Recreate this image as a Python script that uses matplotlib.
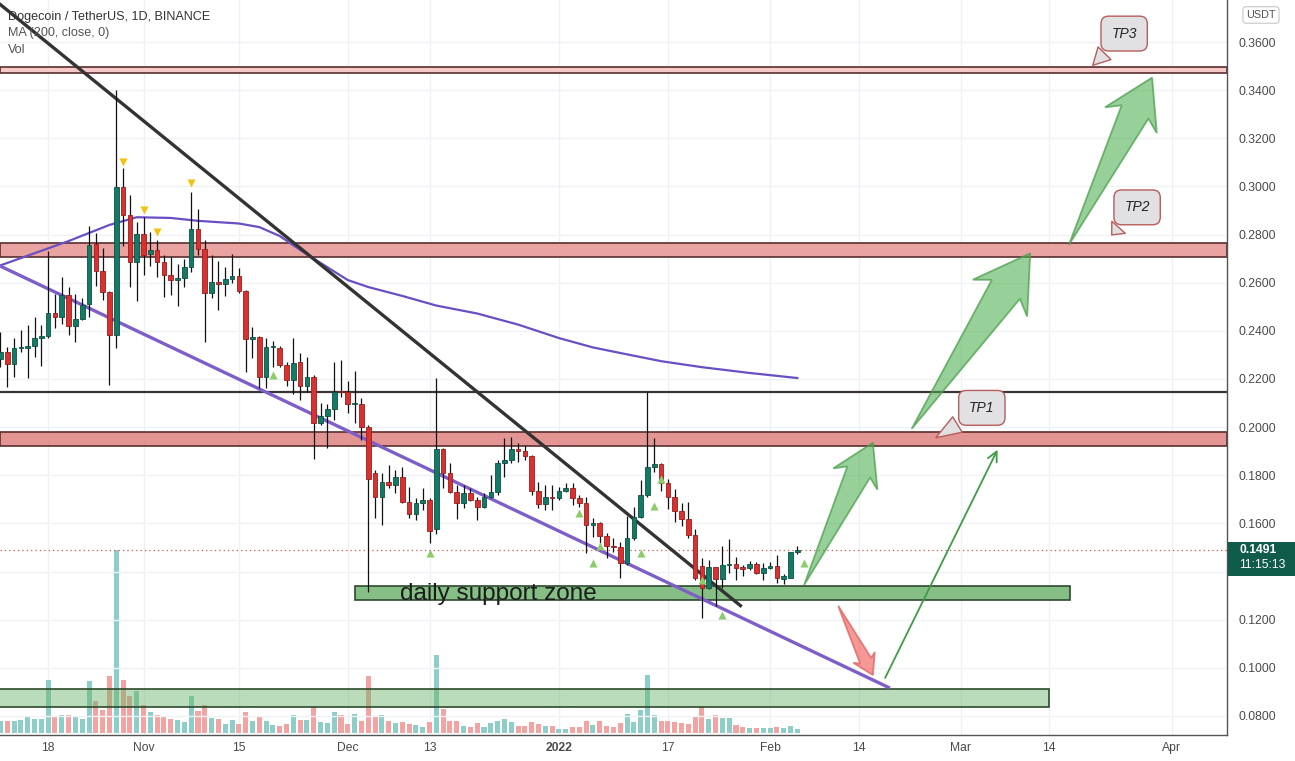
import numpy as np
import pandas as pd
import matplotlib
matplotlib.use("Agg")
import matplotlib.pyplot as plt
from matplotlib.patches import Rectangle, Polygon, FancyArrowPatch
from matplotlib.transforms import blended_transform_factory

# ---------------------------------------------------------------- data
start_date = "2021-10-11"

opens = [0.2283, 0.2311, 0.2261, 0.2327, 0.2327, 0.2338, 0.2372, 0.2379, 0.2473, 0.2456,
         0.2547, 0.2421, 0.2449, 0.2510, 0.2760, 0.2649, 0.2560, 0.2383, 0.2999, 0.2881,
         0.2687, 0.2801, 0.2718, 0.2735, 0.2687, 0.2632, 0.2611, 0.2621, 0.2664, 0.2822,
         0.2738, 0.2556, 0.2604, 0.2595, 0.2614, 0.2629, 0.2565, 0.2365, 0.2373, 0.2207,
         0.2332, 0.2330, 0.2258, 0.2196, 0.2269, 0.2171, 0.2209, 0.2016, 0.2046, 0.2074,
         0.2147, 0.2145, 0.2095, 0.2097, 0.2002, 0.1810, 0.1711, 0.1773, 0.1760, 0.1791,
         0.1690, 0.1639, 0.1686, 0.1697, 0.1575, 0.1909, 0.1808, 0.1732, 0.1683, 0.1725,
         0.1697, 0.1669, 0.1711, 0.1732, 0.1850, 0.1863, 0.1908, 0.1901, 0.1880, 0.1736,
         0.1680, 0.1711, 0.1704, 0.1736, 0.1746, 0.1704, 0.1683, 0.1593, 0.1600, 0.1549,
         0.1506, 0.1500, 0.1434, 0.1538, 0.1628, 0.1718, 0.1833, 0.1845, 0.1767, 0.1708,
         0.1651, 0.1617, 0.1552, 0.1423, 0.1330, 0.1417, 0.1369, 0.1427, 0.1431, 0.1414,
         0.1413, 0.1431, 0.1393, 0.1413, 0.1423, 0.1368, 0.1375, 0.1480]
highs = [0.2394, 0.2334, 0.2369, 0.2403, 0.2424, 0.2459, 0.2424, 0.2732, 0.2552, 0.2622,
         0.2583, 0.2552, 0.2535, 0.2837, 0.2808, 0.2743, 0.2565, 0.3401, 0.3075, 0.2964,
         0.2853, 0.2875, 0.2812, 0.2777, 0.2715, 0.2708, 0.2678, 0.2697, 0.2978, 0.2905,
         0.2777, 0.2715, 0.2690, 0.2664, 0.2718, 0.2660, 0.2570, 0.2415, 0.2380, 0.2369,
         0.2359, 0.2337, 0.2272, 0.2369, 0.2309, 0.2290, 0.2217, 0.2099, 0.2096, 0.2272,
         0.2279, 0.2193, 0.2233, 0.2122, 0.2010, 0.1822, 0.1808, 0.1843, 0.1822, 0.1836,
         0.1753, 0.1704, 0.1746, 0.1704, 0.2203, 0.1915, 0.1850, 0.1760, 0.1760, 0.1746,
         0.1711, 0.1725, 0.1801, 0.1862, 0.1953, 0.1960, 0.1933, 0.1926, 0.1885, 0.1773,
         0.1760, 0.1760, 0.1753, 0.1767, 0.1767, 0.1718, 0.1708, 0.1621, 0.1607, 0.1559,
         0.1538, 0.1524, 0.1631, 0.1669, 0.1780, 0.2147, 0.1953, 0.1850, 0.1783, 0.1742,
         0.1683, 0.1690, 0.1575, 0.1455, 0.1448, 0.1420, 0.1507, 0.1534, 0.1459, 0.1427,
         0.1444, 0.1441, 0.1437, 0.1441, 0.1469, 0.1389, 0.1482, 0.1507]
lows = [0.2251, 0.2165, 0.2209, 0.2313, 0.2205, 0.2293, 0.2255, 0.2369, 0.2410, 0.2428,
        0.2383, 0.2355, 0.2445, 0.2459, 0.2588, 0.2528, 0.2175, 0.2327, 0.2754, 0.2583,
        0.2525, 0.2632, 0.2670, 0.2625, 0.2542, 0.2549, 0.2504, 0.2583, 0.2646, 0.2715,
        0.2355, 0.2535, 0.2487, 0.2546, 0.2597, 0.2556, 0.2230, 0.2286, 0.2161, 0.2161,
        0.2251, 0.2251, 0.2171, 0.2138, 0.2111, 0.2147, 0.1866, 0.2010, 0.1912, 0.2030,
        0.2127, 0.2060, 0.2016, 0.1946, 0.1316, 0.1621, 0.1593, 0.1746, 0.1726, 0.1683,
        0.1621, 0.1614, 0.1656, 0.1517, 0.1555, 0.1746, 0.1726, 0.1617, 0.1663, 0.1694,
        0.1614, 0.1663, 0.1704, 0.1720, 0.1794, 0.1850, 0.1856, 0.1863, 0.1718, 0.1663,
        0.1656, 0.1656, 0.1697, 0.1732, 0.1676, 0.1669, 0.1476, 0.1545, 0.1489, 0.1455,
        0.1483, 0.1372, 0.1427, 0.1531, 0.1621, 0.1711, 0.1815, 0.1736, 0.1658, 0.1607,
        0.1589, 0.1541, 0.1365, 0.1206, 0.1326, 0.1257, 0.1330, 0.1393, 0.1365, 0.1381,
        0.1406, 0.1389, 0.1365, 0.1409, 0.1354, 0.1348, 0.1372, 0.1473]
closes = [0.2311, 0.2261, 0.2327, 0.2330, 0.2338, 0.2372, 0.2379, 0.2473, 0.2456, 0.2547,
          0.2421, 0.2449, 0.2507, 0.2757, 0.2649, 0.2560, 0.2383, 0.2999, 0.2881, 0.2687,
          0.2801, 0.2715, 0.2735, 0.2687, 0.2632, 0.2611, 0.2621, 0.2667, 0.2822, 0.2738,
          0.2556, 0.2604, 0.2595, 0.2614, 0.2629, 0.2565, 0.2365, 0.2373, 0.2207, 0.2332,
          0.2334, 0.2258, 0.2196, 0.2265, 0.2171, 0.2209, 0.2016, 0.2046, 0.2074, 0.2147,
          0.2145, 0.2095, 0.2097, 0.2002, 0.1783, 0.1711, 0.1773, 0.1760, 0.1791, 0.1690,
          0.1639, 0.1686, 0.1697, 0.1568, 0.1909, 0.1808, 0.1732, 0.1683, 0.1725, 0.1697,
          0.1669, 0.1711, 0.1732, 0.1850, 0.1863, 0.1908, 0.1901, 0.1880, 0.1736, 0.1680,
          0.1711, 0.1704, 0.1736, 0.1746, 0.1704, 0.1683, 0.1593, 0.1600, 0.1549, 0.1506,
          0.1500, 0.1434, 0.1538, 0.1628, 0.1718, 0.1833, 0.1845, 0.1767, 0.1708, 0.1651,
          0.1617, 0.1552, 0.1372, 0.1330, 0.1417, 0.1369, 0.1427, 0.1431, 0.1413, 0.1412,
          0.1431, 0.1393, 0.1413, 0.1423, 0.1372, 0.1381, 0.1480, 0.1491]
# relative volume (no scale shown on the chart)
volumes = [12.3, 12.3, 12.3, 13.3, 16.7, 14.3, 14.3, 53.3, 16.0, 18.3,
           18.3, 17.3, 14.3, 52.3, 32.3, 23.3, 56.7, 183.3, 53.3, 37.3,
           42.3, 27.7, 21.0, 18.3, 16.7, 14.3, 13.3, 11.0, 37.3, 21.7,
           28.3, 15.0, 14.3, 9.3, 13.3, 9.3, 21.0, 12.3, 16.7, 12.3,
           8.3, 7.3, 9.3, 18.3, 13.3, 13.3, 26.0, 11.0, 10.0, 21.0,
           18.3, 9.3, 19.3, 12.3, 57.3, 16.0, 18.3, 12.3, 10.0, 11.0,
           9.3, 8.3, 6.0, 11.0, 78.3, 24.3, 12.3, 12.3, 7.3, 6.0,
           10.0, 6.0, 10.0, 12.3, 14.0, 10.7, 7.3, 7.3, 11.0, 9.3,
           7.3, 7.3, 4.3, 4.3, 6.0, 6.0, 12.3, 8.3, 12.3, 7.3,
           5.7, 10.0, 19.3, 11.0, 23.3, 58.3, 18.3, 12.3, 12.3, 11.0,
           10.0, 9.3, 17.3, 25.7, 14.3, 18.3, 15.0, 15.0, 8.3, 6.0,
           5.0, 5.0, 5.0, 5.0, 6.0, 5.0, 7.3, 4.3]

# MA(200, close) as drawn
ma_dates = ["2021-10-11", "2021-10-21", "2021-10-27", "2021-10-31", "2021-11-05", "2021-11-09",
            "2021-11-15", "2021-11-18", "2021-11-21", "2021-11-24", "2021-11-27", "2021-12-01",
            "2021-12-04", "2021-12-09", "2021-12-14", "2021-12-20", "2021-12-26", "2022-01-01",
            "2022-01-06", "2022-01-10", "2022-01-16", "2022-01-22", "2022-01-29", "2022-02-05"]
ma_values = [0.2672, 0.2773, 0.2840, 0.2872, 0.2869, 0.2857, 0.2846, 0.2831, 0.2794, 0.2736,
             0.2682, 0.2611, 0.2582, 0.2545, 0.2505, 0.2472, 0.2426, 0.2370, 0.2331, 0.2308,
             0.2274, 0.2249, 0.2225, 0.2204]

# signal markers
sell_dates = ["2021-10-29", "2021-11-01", "2021-11-03", "2021-11-08"]
sell_levels = [0.3103, 0.2902, 0.2812, 0.3013]
buy_dates = ["2021-11-20", "2021-12-13", "2022-01-04", "2022-01-06", "2022-01-07", "2022-01-13",
             "2022-01-15", "2022-01-16", "2022-01-22", "2022-01-25", "2022-02-06"]
buy_levels = [0.2217, 0.1478, 0.1642, 0.1437, 0.1506, 0.1476, 0.1672, 0.1783, 0.1365, 0.1219, 0.1435]

# horizontal zones / levels
tp_zones = [(0.3471, 0.3497), (0.2708, 0.2764), (0.1922, 0.1981)]
resistance_level = 0.2146
last_price = 0.1491
last_time = "11:15:13"

tick_dates = ["2021-10-18", "2021-11-01", "2021-11-15", "2021-12-01", "2021-12-13", "2022-01-01",
              "2022-01-17", "2022-02-01", "2022-02-14", "2022-03-01", "2022-03-14", "2022-04-01"]
tick_labels = ["18", "Nov", "15", "Dec", "13", "2022", "17", "Feb", "14", "Mar", "14", "Apr"]
price_ticks = [0.08, 0.10, 0.12, 0.14, 0.16, 0.18, 0.20, 0.22, 0.24, 0.26, 0.28, 0.30, 0.32, 0.34, 0.36]

# ---------------------------------------------------------------- helpers
t0 = pd.Timestamp(start_date)


def day(s):
    return (pd.Timestamp(s) - t0).days


o = np.array(opens); h = np.array(highs); l = np.array(lows); c = np.array(closes)
dates = pd.date_range(start_date, periods=len(o), freq="D")
x = np.array((dates - t0).days, dtype=float)
up = c >= o

UP = "#137a66"
UP_E = "#0b5244"
DN = "#d8312f"
DN_E = "#9a1d1d"
VOL_UP = "#8dcfc8"
VOL_DN = "#f4a3a3"

W, H = 1295, 761
fig = plt.figure(figsize=(W / 100, H / 100), dpi=100, facecolor="white")
rect = [0, 1 - 735 / H, 1227 / W, 735 / H]
axv = fig.add_axes(rect)
ax = fig.add_axes(rect)
ax.patch.set_alpha(0)

XMIN, XMAX = -0.073, 180.1
YMIN, YMAX = 0.07209, 0.37745
for a in (axv, ax):
    a.set_xlim(XMIN, XMAX)
ax.set_ylim(YMIN, YMAX)
axv.set_ylim(-2, 733)

# grid (behind everything)
tick_x = [day(s) for s in tick_dates]
for tx in tick_x:
    axv.axvline(tx, color="#eff1f5", lw=1, zorder=0)
for py in price_ticks:
    ax.axhline(py, color="#eff1f5", lw=1, zorder=0)

axv.set_xticks([]); axv.set_yticks([])
for s in axv.spines.values():
    s.set_visible(False)

# volume
axv.bar(x, volumes, width=0.74, color=np.where(up, VOL_UP, VOL_DN), zorder=2, linewidth=0)

# zones
for (lo, hi), fc in zip(tp_zones, ["#f6c9c8", "#e9a3a1", "#e29592"]):
    ax.axhspan(lo, hi, facecolor=fc, edgecolor="#5a2e2e", lw=1.2, zorder=1)
ax.axhline(resistance_level, color="#3a3434", lw=1.6, zorder=2)
ax.axhline(last_price, color="#d9534f", lw=0.9, ls=(0, (1, 2.5)), zorder=2)

# green zones
ax.add_patch(Rectangle((day("2021-12-02"), 0.1281), day("2022-03-17") - day("2021-12-02"), 0.0060,
                       facecolor="#86bf86", edgecolor="#2c4a2c", lw=1.2, zorder=2))
ax.add_patch(Rectangle((-1, 0.0837), day("2022-03-14") + 1, 0.0075,
                       facecolor=(0.40, 0.70, 0.40, 0.45), edgecolor="#2c4a2c", lw=1.2, zorder=4))
ax.text(day("2021-12-09") - 0.3, 0.1306, "daily support zone", fontsize=17.5, family="Liberation Sans",
        color="#1b1b1b", va="center", ha="left", zorder=6)

# MA
ax.plot([day(s) for s in ma_dates], ma_values, color="#6a4fc4", lw=1.6, zorder=3)

# trend lines
ax.plot([-1, 108.84], [0.3778, 0.1254], color="#333333", lw=2.4, zorder=5, solid_capstyle="butt")
ax.plot([-1, 130.6], [0.2682, 0.0916], color="#7e5ec7", lw=2.4, zorder=5, solid_capstyle="butt")

# candles
ax.vlines(x, l, h, color="#111111", lw=0.9, zorder=6)
body_lo = np.minimum(o, c)
body_h = np.maximum(np.abs(c - o), 0.0005)
ax.bar(x, body_h, bottom=body_lo, width=0.68, color=np.where(up, UP, DN),
       edgecolor=np.where(up, UP_E, DN_E), linewidth=0.6, zorder=7)

# markers
ax.scatter([day(s) for s in sell_dates], sell_levels, marker="v", s=34, color="#f2c311",
           linewidths=0, zorder=8)
ax.scatter([day(s) for s in buy_dates], buy_levels, marker="^", s=34, color="#8ccc6a",
           linewidths=0, zorder=8)


# fat tapered arrows (drawn in display space from data anchors)
def fat_arrow(tail, tip, fc, ec):
    T = ax.transData
    p0 = np.array(T.transform(tail)); p1 = np.array(T.transform(tip))
    v = p1 - p0
    L = np.hypot(*v)
    u = v / L
    n = np.array([-u[1], u[0]])
    pts = [p1,
           p1 - 0.255 * L * u + 0.155 * L * n,
           p1 - 0.205 * L * u + 0.080 * L * n,
           p0,
           p1 - 0.205 * L * u - 0.080 * L * n,
           p1 - 0.255 * L * u - 0.155 * L * n]
    pts = T.inverted().transform(np.array(pts))
    ax.add_patch(Polygon(pts, closed=True, facecolor=fc, edgecolor=ec, lw=1.3, zorder=9))


GREEN_F = (0.30, 0.69, 0.31, 0.58)
GREEN_E = (0.30, 0.62, 0.30, 0.75)
fat_arrow((118.0, 0.1344), (128.1, 0.1935), GREEN_F, GREEN_E)
fat_arrow((133.8, 0.1993), (151.2, 0.2722), GREEN_F, GREEN_E)
fat_arrow((156.9, 0.2758), (169.1, 0.3452), GREEN_F, GREEN_E)
fat_arrow((123.0, 0.1258), (128.1, 0.0970), (0.94, 0.33, 0.31, 0.6), (0.88, 0.40, 0.40, 0.8))

ax.add_patch(FancyArrowPatch((129.9, 0.0958), (146.4, 0.1906), arrowstyle="->,head_length=7,head_width=3.5",
                             color="#3f9b45", lw=1.3, shrinkA=0, shrinkB=0, zorder=9))


# callouts
def callout(text, tip, box):
    ax.annotate(text, xy=tip, xytext=box, textcoords="data", ha="center", va="center",
                fontsize=10, fontstyle="italic", color="#222222", family="Liberation Sans", zorder=10,
                bbox=dict(boxstyle="round,pad=0.75,rounding_size=0.55", fc="#e1e1e3", ec="#b85c5c", lw=1),
                arrowprops=dict(arrowstyle="wedge,tail_width=1.3,shrink_factor=0.5", fc="#e1e1e3",
                                ec="#b85c5c", lw=1, relpos=(0.3, 0.15)))


callout("TP3", (160.1, 0.3495), (165.0, 0.3635))
callout("TP2", (162.9, 0.2790), (166.9, 0.2913))
callout("TP1", (137.0, 0.1950), (144.1, 0.2080))

# axes styling
for side in ("top", "left"):
    ax.spines[side].set_visible(False)
for side in ("right", "bottom"):
    ax.spines[side].set_color("#555555")
    ax.spines[side].set_linewidth(1)
ax.yaxis.tick_right()
ax.set_yticks(price_ticks)
# the 0.1400 label sits under the last-price tag in the reference
ax.set_yticklabels(["" if abs(p - 0.14) < 1e-9 else f"{p:.4f}" for p in price_ticks])
ax.tick_params(axis="y", length=0, pad=8, labelsize=8.7, labelcolor="#4a4a4a")
ax.set_xticks(tick_x)
ax.set_xticklabels(tick_labels)
ax.tick_params(axis="x", length=0, pad=5, labelsize=8.7, labelcolor="#4a4a4a")
for lab in ax.get_yticklabels() + ax.get_xticklabels():
    lab.set_family("Liberation Sans")
ax.get_xticklabels()[tick_labels.index("2022")].set_fontweight("bold")

# last price tag on the axis
bt = blended_transform_factory(ax.transAxes, ax.transData)
ax.add_patch(Rectangle((1.0008, last_price - 26 / 2407), 0.06, 34 / 2407, transform=bt,
                       facecolor="#105c4b", edgecolor="none", clip_on=False, zorder=11))
ax.text(1.010, last_price - 0.0002, f"{last_price:.4f}", transform=bt, color="white", fontsize=8.7,
        fontweight="bold", family="Liberation Sans", va="center", ha="left", clip_on=False, zorder=12)
ax.text(1.010, last_price - 0.0065, last_time, transform=bt, color="white", fontsize=8.7,
        family="Liberation Sans", va="center", ha="left", clip_on=False, zorder=12)

# header
fig.text(8 / W, 1 - 17 / H, "Dogecoin / TetherUS, 1D, BINANCE", fontsize=9.1, family="Liberation Sans",
         color="#333333", va="center", ha="left")
fig.text(8 / W, 1 - 33 / H, "MA (200, close, 0)", fontsize=9.1, family="Liberation Sans",
         color="#555555", va="center", ha="left")
fig.text(8 / W, 1 - 50 / H, "Vol", fontsize=9.1, family="Liberation Sans",
         color="#555555", va="center", ha="left")
fig.text(1261 / W, 1 - 15 / H, "USDT", fontsize=7.8, family="Liberation Sans", color="#555555",
         va="center", ha="center",
         bbox=dict(boxstyle="round,pad=0.3,rounding_size=0.3", fc="white", ec="#c8c8c8", lw=0.8))

fig.savefig("out.png", dpi=100, facecolor="white")
